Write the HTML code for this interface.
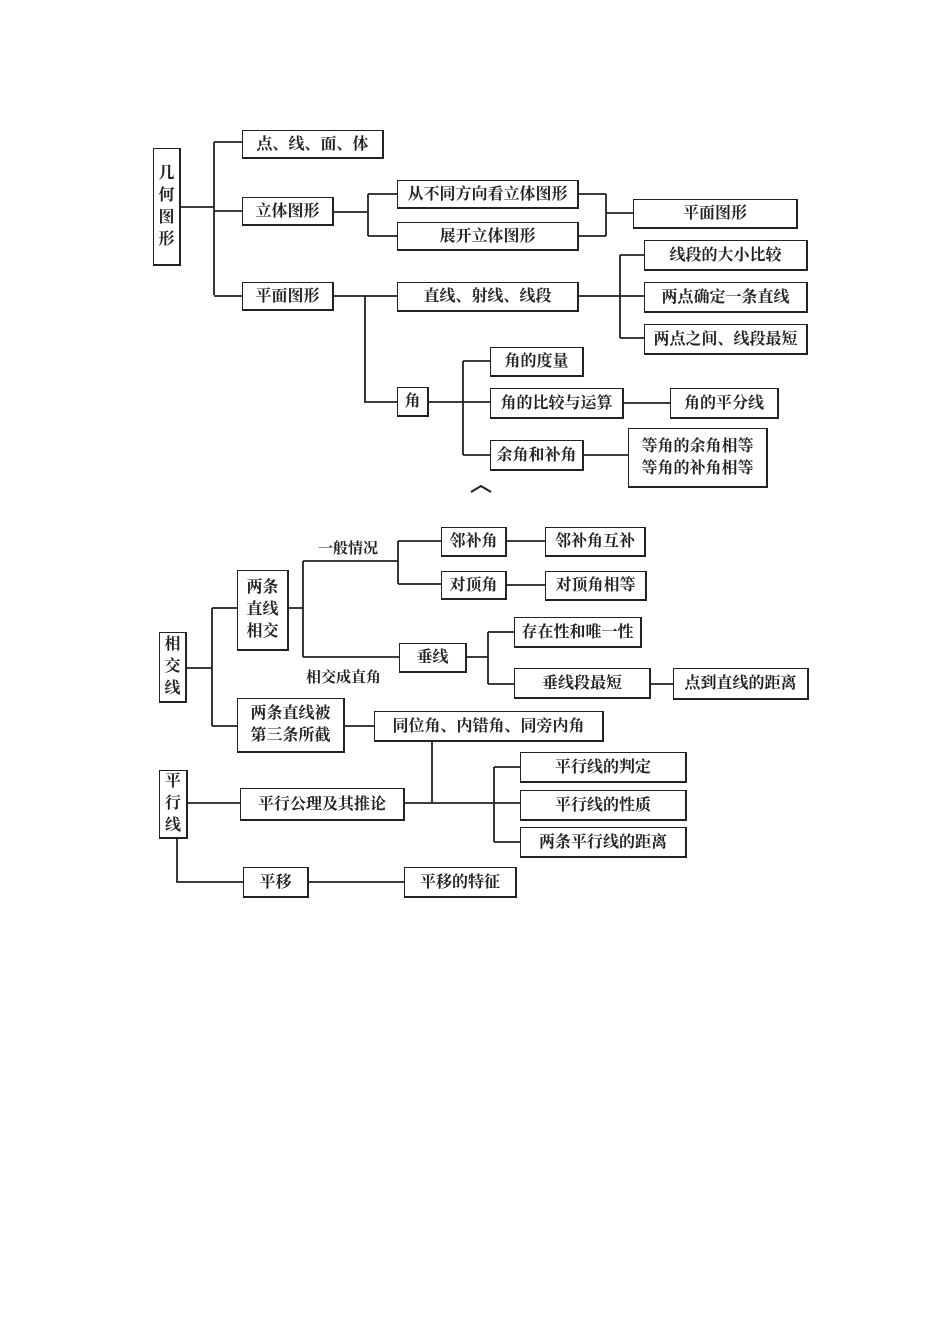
<!DOCTYPE html>
<html><head><meta charset="utf-8"><style>
body{margin:0;background:#fff;}
#c{position:relative;width:950px;height:1344px;overflow:hidden;background:#fff;}
.b{position:absolute;box-sizing:border-box;border:1.8px solid #222;border-right-width:2.8px;border-bottom-width:2.8px;display:flex;align-items:center;justify-content:center;text-align:center;font-family:"Liberation Serif","Noto Serif CJK SC",serif;font-weight:bold;font-size:16px;color:#222;line-height:19px;background:#fff;}
.v{flex-direction:column;line-height:22px;}
.t{position:absolute;font-family:"Liberation Serif","Noto Serif CJK SC",serif;font-weight:bold;font-size:15px;color:#222;}
svg{position:absolute;left:0;top:0;}
</style></head><body><div id="c">
<svg width="950" height="1344" stroke="#222" stroke-width="1.8" fill="none">
<path d="M180 207H214M214 142V295M214 142H242M214 211H242M214 296H242"/>
<path d="M333 212H368M368 194V236M368 194H397M368 236H397M578 194H606M578 236H606M606 194V236M606 213H633"/>
<path d="M333 296H397M365 296V402H397M578 296H644M620 255V338M620 255H644M620 338H644"/>
<path d="M428 402H490M463 361V455M463 361H490M463 455H490M623 403H670M583 455H628"/>
<path d="M288 608H303M303 561V657M303 561H398M398 541V584M398 541H441M398 584H441M506 541H545M506 585H545"/>
<path d="M303 657H399M466 657H488M488 632V684M488 632H514M488 684H514M650 684H673"/>
<path d="M186 668H212M212 608V726M212 608H237M212 726H237M344 726H374M432 741V803"/>
<path d="M187 803H240M404 803H520M494 767V842M494 767H520M494 842H520"/>
<path d="M177 838V882H243M308 882H404"/>
<path d="M471 492L481 486L491 492" stroke-width="2"/>
</svg>
<div class="b v" style="left:153px;top:148px;width:28px;height:118px">几<br>何<br>图<br>形</div>
<div class="b" style="left:242px;top:130px;width:142px;height:29px">点、线、面、体</div>
<div class="b" style="left:242px;top:197px;width:92px;height:29px">立体图形</div>
<div class="b" style="left:242px;top:282px;width:92px;height:29px">平面图形</div>
<div class="b" style="left:397px;top:180px;width:182px;height:29px">从不同方向看立体图形</div>
<div class="b" style="left:397px;top:222px;width:182px;height:29px">展开立体图形</div>
<div class="b" style="left:633px;top:199px;width:165px;height:30px">平面图形</div>
<div class="b" style="left:644px;top:240px;width:164px;height:31px">线段的大小比较</div>
<div class="b" style="left:644px;top:282px;width:164px;height:31px">两点确定一条直线</div>
<div class="b" style="left:644px;top:324px;width:164px;height:31px">两点之间、线段最短</div>
<div class="b" style="left:397px;top:282px;width:182px;height:30px">直线、射线、线段</div>
<div class="b" style="left:397px;top:387px;width:32px;height:30px">角</div>
<div class="b" style="left:490px;top:347px;width:94px;height:30px">角的度量</div>
<div class="b" style="left:490px;top:388px;width:134px;height:31px">角的比较与运算</div>
<div class="b" style="left:670px;top:388px;width:109px;height:31px">角的平分线</div>
<div class="b" style="left:490px;top:440px;width:94px;height:31px">余角和补角</div>
<div class="b v" style="left:628px;top:428px;width:140px;height:60px">等角的余角相等<br>等角的补角相等</div>

<div class="b v" style="left:159px;top:632px;width:28px;height:71px">相<br>交<br>线</div>
<div class="b v" style="left:237px;top:570px;width:52px;height:81px">两条<br>直线<br>相交</div>
<div class="t" style="left:318px;top:537px">一般情况</div>
<div class="b" style="left:441px;top:527px;width:66px;height:30px">邻补角</div>
<div class="b" style="left:441px;top:571px;width:66px;height:29px">对顶角</div>
<div class="b" style="left:545px;top:527px;width:101px;height:30px">邻补角互补</div>
<div class="b" style="left:545px;top:571px;width:102px;height:30px">对顶角相等</div>
<div class="b" style="left:399px;top:643px;width:68px;height:30px">垂线</div>
<div class="t" style="left:306px;top:666px">相交成直角</div>
<div class="b" style="left:514px;top:617px;width:128px;height:31px">存在性和唯一性</div>
<div class="b" style="left:514px;top:668px;width:137px;height:31px">垂线段最短</div>
<div class="b" style="left:673px;top:668px;width:136px;height:32px">点到直线的距离</div>
<div class="b v" style="left:237px;top:698px;width:108px;height:55px">两条直线被<br>第三条所截</div>
<div class="b" style="left:374px;top:711px;width:230px;height:31px">同位角、内错角、同旁内角</div>
<div class="b v" style="left:159px;top:770px;width:29px;height:69px">平<br>行<br>线</div>
<div class="b" style="left:240px;top:788px;width:165px;height:33px">平行公理及其推论</div>
<div class="b" style="left:520px;top:752px;width:167px;height:31px">平行线的判定</div>
<div class="b" style="left:520px;top:790px;width:167px;height:31px">平行线的性质</div>
<div class="b" style="left:520px;top:827px;width:167px;height:31px">两条平行线的距离</div>
<div class="b" style="left:243px;top:867px;width:66px;height:31px">平移</div>
<div class="b" style="left:404px;top:867px;width:113px;height:31px">平移的特征</div>
</div></body></html>
